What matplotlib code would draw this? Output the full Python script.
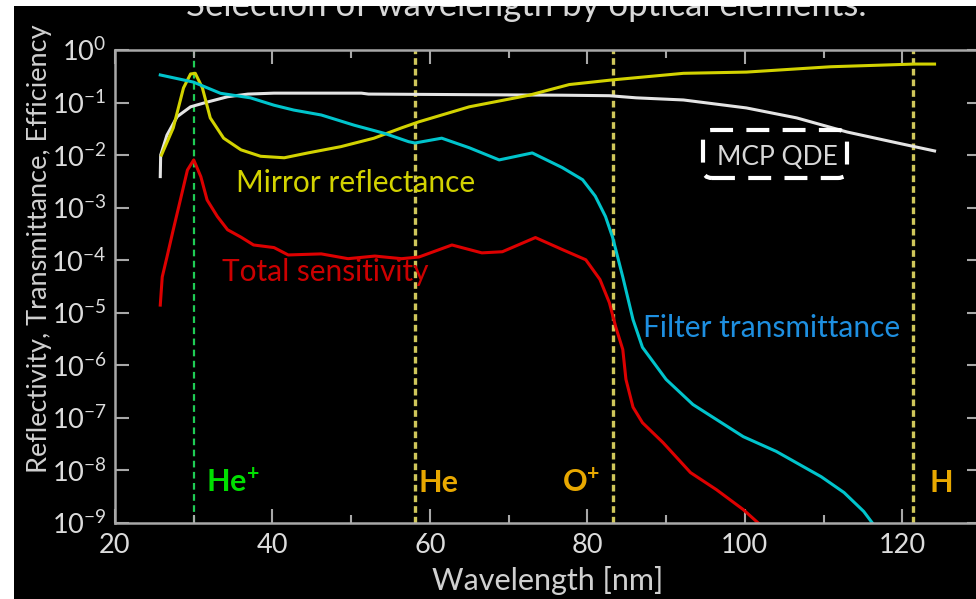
import matplotlib
matplotlib.use("Agg")
import matplotlib.pyplot as plt
from matplotlib.patches import Rectangle, FancyBboxPatch
from matplotlib.transforms import IdentityTransform

plt.rcParams["font.family"] = ["Lato", "DejaVu Sans"]
plt.rcParams["mathtext.fontset"] = "custom"
plt.rcParams["mathtext.rm"] = "Lato"

# filter transmittance (cyan)
filter_nm = [25.75, 29.96, 33.4, 37.2, 40.2, 42.7, 46.2, 50.4, 54.2, 57.3, 58.1,
             61.5, 65.0, 68.8, 73.0, 76.8, 79.4, 81.0, 82.3, 83.2, 84.5, 85.8,
             87.0, 90.0, 93.4, 99.8, 104.0, 109.7, 112.6, 115.1, 116.2]
filter_val = [0.335, 0.245, 0.15, 0.123, 0.089, 0.072, 0.058, 0.037, 0.026, 0.018, 0.017,
              0.021, 0.0138, 0.0081, 0.011, 0.0058, 0.0034, 1.66e-3, 6.8e-4, 2.75e-4,
              4.8e-5, 7.4e-6, 2.2e-6, 5.4e-7, 1.8e-7, 4.4e-8, 2.3e-8, 7.6e-9, 3.8e-9,
              1.66e-9, 1.0e-9]

# mirror reflectance (yellow)
mirror_nm = [25.9, 27.4, 28.7, 29.6, 30.2, 31.1, 32.1, 33.8, 36.0, 38.5, 41.5, 44.5,
             48.7, 52.9, 56.4, 58.6, 65.0, 72.6, 77.7, 83.2, 92.2, 100.2, 110.9,
             121.5, 124.1]
mirror_val = [0.010, 0.033, 0.19, 0.35, 0.36, 0.19, 0.051, 0.021, 0.0126, 0.0095,
              0.0089, 0.011, 0.0145, 0.021, 0.033, 0.043, 0.083, 0.138, 0.22, 0.27,
              0.36, 0.38, 0.48, 0.54, 0.54]

# MCP quantum detection efficiency (white)
mcp_nm = [25.75, 25.8, 26.6, 27.9, 29.6, 31.7, 34.3, 36.9, 40.2, 51.3, 52.2, 76.8,
          82.8, 86.2, 92.2, 100.2, 106.6, 113.0, 119.4, 124.1]
mcp_val = [0.0039, 0.010, 0.024, 0.054, 0.083, 0.102, 0.129, 0.145, 0.151, 0.151,
           0.145, 0.138, 0.135, 0.123, 0.112, 0.079, 0.051, 0.0275, 0.017, 0.012]

# total sensitivity (red)
total_nm = [25.75, 26.0, 26.6, 27.4, 28.3, 29.2, 30.0, 30.9, 31.7, 33.0, 34.3, 36.0,
            37.6, 40.2, 42.0, 46.2, 49.6, 53.0, 56.4, 58.6, 62.8, 66.6, 69.2, 73.4,
            76.8, 79.8, 81.6, 82.8, 83.6, 84.5, 84.9, 85.8, 87.0, 89.6, 93.1, 96.4,
            99.8, 101.7]
total_val = [1.4e-5, 4.8e-5, 1.15e-4, 3.8e-4, 1.4e-3, 5.2e-3, 8.1e-3, 3.9e-3, 1.4e-3,
             6.8e-4, 3.8e-4, 2.75e-4, 1.95e-4, 1.74e-4, 1.26e-4, 1.32e-4, 1.07e-4,
             1.2e-4, 1.07e-4, 1.15e-4, 1.95e-4, 1.38e-4, 1.45e-4, 2.7e-4, 1.6e-4,
             1.02e-4, 4.3e-5, 1.55e-5, 5.4e-6, 2.0e-6, 5.4e-7, 1.6e-7, 8.1e-8,
             3.4e-8, 9.1e-9, 4.3e-9, 1.8e-9, 1.0e-9]

# emission lines
line_names = ["He$^{\\mathregular{+}}$", "He", "O$^{\\mathregular{+}}$", "H"]
line_nm = [30.0, 58.1, 83.2, 121.3]
line_colors = ["#1fcc55", "#cfc65a", "#cfc65a", "#cfc65a"]
label_colors = ["#00e000", "#e8a800", "#e8a800", "#e8a800"]
label_nm = [31.5, 58.5, 76.8, 123.5]

x_ticks = [20, 40, 60, 80, 100, 120]
y_exps = list(range(-9, 1))

fig = plt.figure(figsize=(9.76, 5.99), dpi=100, facecolor="black")
ax = fig.add_axes([115 / 976, 76 / 599, 866 / 976, 473 / 599])
ax.set_facecolor("black")
ax.set_yscale("log")
ax.set_xlim(20, 130)
ax.set_ylim(1e-9, 1)

spine_col = "#a8a8a8"
for s in ax.spines.values():
    s.set_color(spine_col)
    s.set_linewidth(1.8)

ax.set_xticks(x_ticks)
ax.set_xticks(range(30, 130, 20), minor=True)
ax.set_yticks([10.0 ** e for e in y_exps])
ax.set_yticklabels(["$\\mathregular{10^{%d}}$" % e for e in y_exps])
ax.yaxis.set_minor_locator(matplotlib.ticker.NullLocator())
ax.tick_params(which="both", direction="in", top=True, right=True,
               color=spine_col, width=1.5, labelcolor="#dcdcdc", labelsize=19.5)
ax.tick_params(which="major", length=10)
ax.tick_params(which="minor", length=6)
ax.tick_params(axis="y", pad=6)
ax.tick_params(axis="x", pad=7)

for nm, c, lw, ls in zip(line_nm, line_colors, [1.6, 2.4, 2.4, 2.4],
                         [(0, (3, 2)), (0, (2, 1.2)), (0, (2, 1.2)), (0, (2, 1.2))]):
    ax.axvline(nm, color=c, lw=lw, ls=ls, zorder=1)

ax.plot(mcp_nm, mcp_val, color="#e4e4e4", lw=2.2)
ax.plot(mirror_nm, mirror_val, color="#d2d200", lw=2.2)
ax.plot(filter_nm, filter_val, color="#00c4cc", lw=2.2)
ax.plot(total_nm, total_val, color="#dd0000", lw=2.2)

for name, nm, c in zip(line_names, label_nm, label_colors):
    ax.text(nm, 10 ** -8.23, name, color=c, fontsize=22, fontweight="bold",
            ha="left", va="center")

ax.text(35.4, 10 ** -2.53, "Mirror reflectance", color="#d2d200", fontsize=21.5,
        ha="left", va="center")
ax.text(33.6, 10 ** -4.22, "Total sensitivity", color="#cc0000", fontsize=21.5,
        ha="left", va="center")
ax.text(87.1, 10 ** -5.29, "Filter transmittance", color="#1e8fe0", fontsize=21.5,
        ha="left", va="center")
ax.text(104.1, 10 ** -2.05, "MCP QDE", color="#d8d8d8", fontsize=19,
        ha="center", va="center")

box = FancyBboxPatch((703, 421), 144, 48, boxstyle="round,pad=0,rounding_size=9",
                     transform=IdentityTransform(), fill=False, edgecolor="white",
                     lw=3, ls=(0, (5.5, 3.2)), zorder=5)
fig.add_artist(box)

ax.set_xlabel("Wavelength [nm]", color="#d0d0d0", fontsize=22, labelpad=6)
ax.set_ylabel("Reflectivity, Transmittance, Efficiency", color="#d0d0d0",
              fontsize=19.5)
ax.yaxis.set_label_coords(-0.073, 0.579)

fig.text(0.539, 1 - 16 / 599, "Selection of wavelength by optical elements.",
         color="#d8d8d8", fontsize=25, ha="center", va="baseline", zorder=3)

# white margins of the screenshot
fig.add_artist(Rectangle((0, 0), 14 / 976, 1, transform=fig.transFigure,
                         facecolor="white", edgecolor="none", zorder=10))
fig.add_artist(Rectangle((0, 1 - 6 / 599), 1, 6 / 599, transform=fig.transFigure,
                         facecolor="white", edgecolor="none", zorder=10))

fig.savefig("out.png", dpi=100, facecolor=fig.get_facecolor())
